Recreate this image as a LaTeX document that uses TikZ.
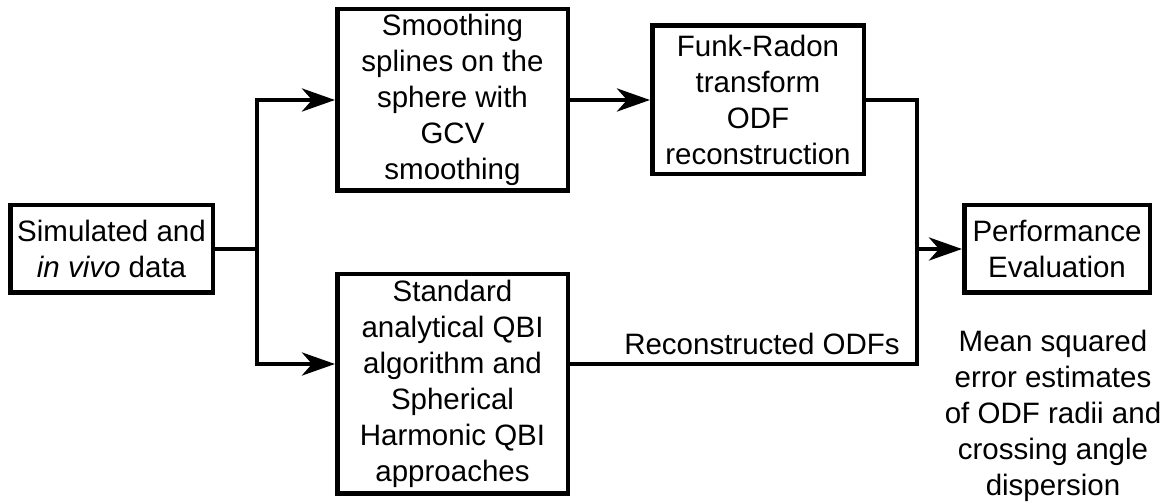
\documentclass[tikz,border=0pt]{standalone}
\usepackage{fontspec}
\setmainfont{Liberation Sans}
\usetikzlibrary{arrows.meta}
\begin{document}
\begin{tikzpicture}[x=1pt,y=-1pt,
  box/.style={draw=black, line width=4.5pt, align=center, inner sep=0pt,
    font=\fontsize{29.5}{36}\selectfont},
  txt/.style={align=center, inner sep=0pt, font=\fontsize{29.5}{36}\selectfont},
  conn/.style={line width=4.5pt, line join=miter},
  arr/.style={conn, -{Stealth[length=33pt, width=23pt, inset=10pt]}}]
\useasboundingbox (0,0) rectangle (1171,502);
\fill[white] (0,0) rectangle (1171,502);
\node[box, minimum width=202.5pt, minimum height=87.5pt] (b1) at (111.5,249) {Simulated and\\\textit{in vivo} data};
\node[box, minimum width=230.5pt, minimum height=181.5pt] (b2) at (452.5,100) {Smoothing\\splines on the\\sphere with\\GCV\\smoothing};
\node[box, minimum width=211.5pt, minimum height=148.5pt] (b3) at (758,100) {Funk-Radon\\transform\\ODF\\reconstruction};
\node[box, minimum width=185.5pt, minimum height=87.5pt] (b4) at (1057,249) {Performance\\Evaluation};
\node[box, minimum width=230.5pt, minimum height=219.5pt] (b5) at (452.5,384) {Standard\\analytical QBI\\algorithm and\\Spherical\\Harmonic QBI\\approaches};
\coordinate (jl) at (257,249);
\coordinate (jlt) at (257,100);
\coordinate (jlb) at (257,364);
\coordinate (jrt) at (917,100);
\coordinate (jr) at (917,249);
\coordinate (jrb) at (917,364);
\draw[conn] (b1.east) -- (jl);
\draw[arr] (jl) -- (jlt) -- (b2.west);
\draw[arr] (jl) -- (jlb) -- (b5.west |- jlb);
\draw[arr] (b2.east) -- (b3.west);
\draw[conn] (b3.east) -- (jrt) -- (jrb) -- (b5.east |- jrb);
\draw[arr] (jr) -- (b4.west);
\node[txt, anchor=base] (lbl) at (762,355) {Reconstructed ODFs};
\node[txt, anchor=north] (note) at (1053,330) {Mean squared\\error estimates\\of ODF radii and\\crossing angle\\dispersion};
\end{tikzpicture}
\end{document}
